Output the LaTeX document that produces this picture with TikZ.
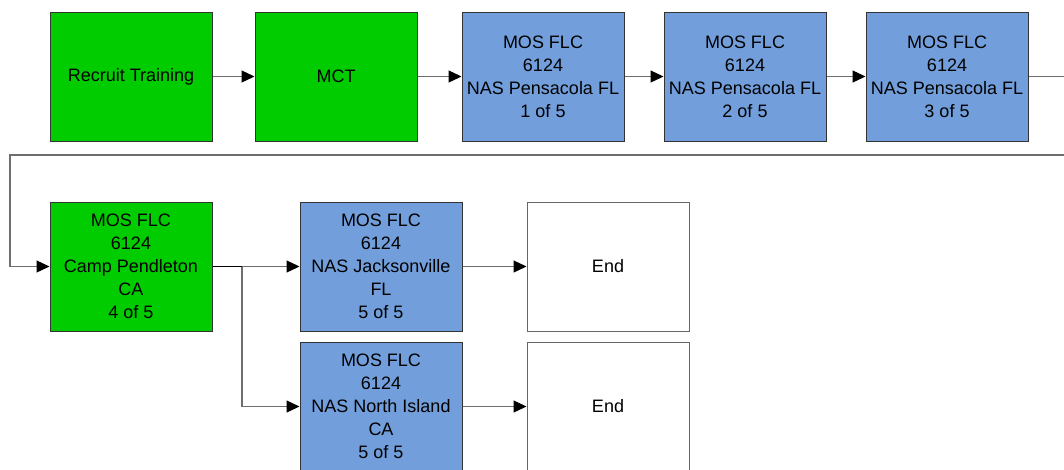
\documentclass[tikz,border=0pt]{standalone}
\usepackage{fontspec}
\setmainfont{Liberation Sans}
\usetikzlibrary{arrows.meta}
\definecolor{stepgreen}{RGB}{0,204,0}
\definecolor{stepblue}{RGB}{114,159,219}
\definecolor{linegray}{RGB}{110,110,110}
\begin{document}
\begin{tikzpicture}[
            x=1pt, y=-1pt,
            box/.style={
                rectangle,
                draw=black!80,
                line width=1pt,
                minimum width=162pt,
                minimum height=129pt,
                inner sep=0pt,
                align=center,
                font=\fontsize{18}{23}\selectfont
            },
            greenbox/.style={box, fill=stepgreen},
            bluebox/.style={box, fill=stepblue},
            endbox/.style={box, draw=black!60, fill=white},
            link/.style={
                draw=linegray,
                line width=1.3pt,
                -{Triangle[length=13pt, width=12pt, color=black]}
            }
        ]

            \useasboundingbox (0, 0) rectangle (1064, 469);

            % first row
            \node[greenbox] (recruit) at (131, 76.5) {Recruit Training};
            \node[greenbox] (mct) at (336, 76.5) {MCT};
            \node[bluebox] (flc1) at (543, 76.5) {MOS FLC\\6124\\NAS Pensacola FL\\1 of 5};
            \node[bluebox] (flc2) at (745, 76.5) {MOS FLC\\6124\\NAS Pensacola FL\\2 of 5};
            \node[bluebox] (flc3) at (947, 76.5) {MOS FLC\\6124\\NAS Pensacola FL\\3 of 5};

            % second row
            \node[greenbox] (flc4) at (131, 266.5) {MOS FLC\\6124\\Camp Pendleton\\CA\\4 of 5};
            \node[bluebox] (jax) at (381, 266.5) {MOS FLC\\6124\\NAS Jacksonville\\FL\\5 of 5};
            \node[bluebox] (north) at (381, 406.5) {MOS FLC\\6124\\NAS North Island\\CA\\5 of 5};
            \node[endbox] (end1) at (608, 266.5) {End};
            \node[endbox] (end2) at (608, 406.5) {End};

            \coordinate (out) at (1064, 76.5);
            \coordinate (back) at (1064, 155);
            \coordinate (turn) at (10, 155);
            \coordinate (split) at (242, 266.5);

            \draw[link] (recruit) -- (mct);
            \draw[link] (mct) -- (flc1);
            \draw[link] (flc1) -- (flc2);
            \draw[link] (flc2) -- (flc3);
            \draw[draw=linegray, line width=1.3pt] (flc3) -- (out);

            \draw[link] (back) -- (turn) |- (flc4.west);

            \draw[draw=black, line width=1.3pt] (flc4.east) -- (split);
            \draw[link] (split) -- (jax.west);
            \draw[link] (split) |- (north.west);

            \draw[link] (jax) -- (end1);
            \draw[link] (north) -- (end2);

        \end{tikzpicture}
\end{document}
